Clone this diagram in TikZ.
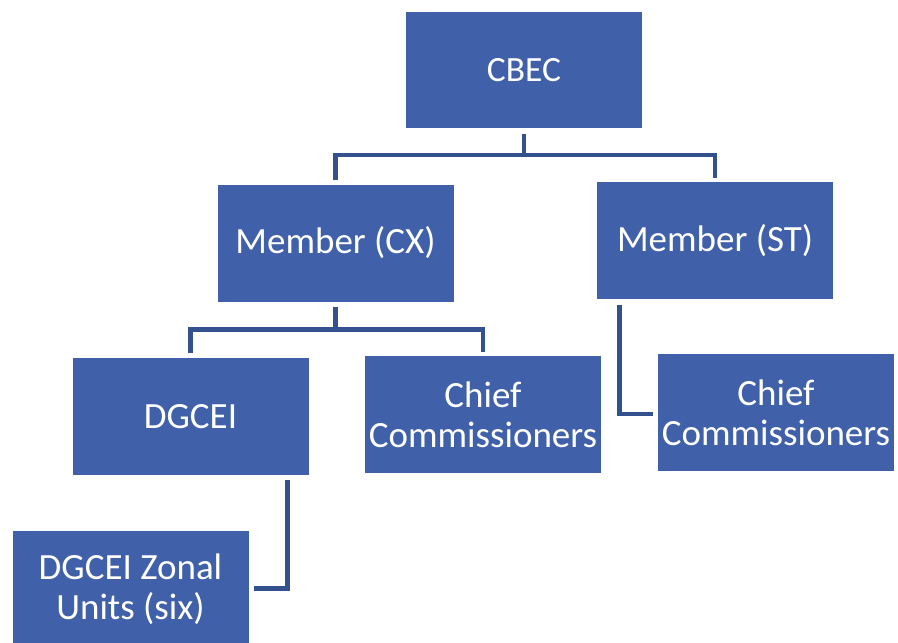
\documentclass[tikz,border=0pt]{standalone}
\usepackage{fontspec}
\setmainfont{Carlito}
\definecolor{boxblue}{HTML}{4061A9}
\definecolor{lineblue}{HTML}{33518C}
\begin{document}
\begin{tikzpicture}[x=1pt,y=-1pt,
  orgbox/.style={rectangle, fill=boxblue, text=white, inner sep=0pt,
    minimum width=236pt, minimum height=117pt, align=center,
    font=\fontsize{37}{40}\selectfont},
  conn/.style={draw=lineblue, line width=4.5pt, line join=miter}]
\useasboundingbox (0,0) rectangle (898,643);
\clip (0,0) rectangle (898,643);
\node[orgbox, minimum height=116pt, font=\fontsize{35.5}{40}\selectfont] (cbec) at (524,70) {CBEC};
\node[orgbox] (mcx) at (335.5,243) {Member (CX)};
\node[orgbox] (mst) at (715,240.5) {Member (ST)};
\node[orgbox] (dgcei) at (190.5,416.5) {DGCEI};
\node[orgbox] (ccl) at (483,414.5) {Chief\\Commissioners};
\node[orgbox] (ccr) at (776,412.5) {Chief\\Commissioners};
\node[orgbox] (zonal) at (130.5,589.5) {DGCEI Zonal\\Units (six)};
% CBEC to members
\draw[conn] ([yshift=-6pt]cbec.south) -- ([yshift=-27pt]cbec.south);
\draw[conn] ([yshift=4pt]mcx.north) |- ([yshift=-27pt]cbec.south) -| ([yshift=4pt]mst.north);
% Member (CX) to children
\draw[conn] ([yshift=-5pt]mcx.south) -- ([yshift=-28pt]mcx.south);
\draw[conn] ([yshift=5pt]dgcei.north) |- ([yshift=-28pt]mcx.south) -| ([yshift=4pt]ccl.north);
% Member (ST) to chief commissioners
\draw[conn] ([xshift=22.5pt,yshift=-6pt]mst.south west) |- ([xshift=-5pt,yshift=-1.5pt]ccr.west);
% DGCEI to zonal units
\draw[conn] ([xshift=-21pt,yshift=-5pt]dgcei.south east) |- ([xshift=5pt,yshift=1pt]zonal.east);
\end{tikzpicture}
\end{document}
